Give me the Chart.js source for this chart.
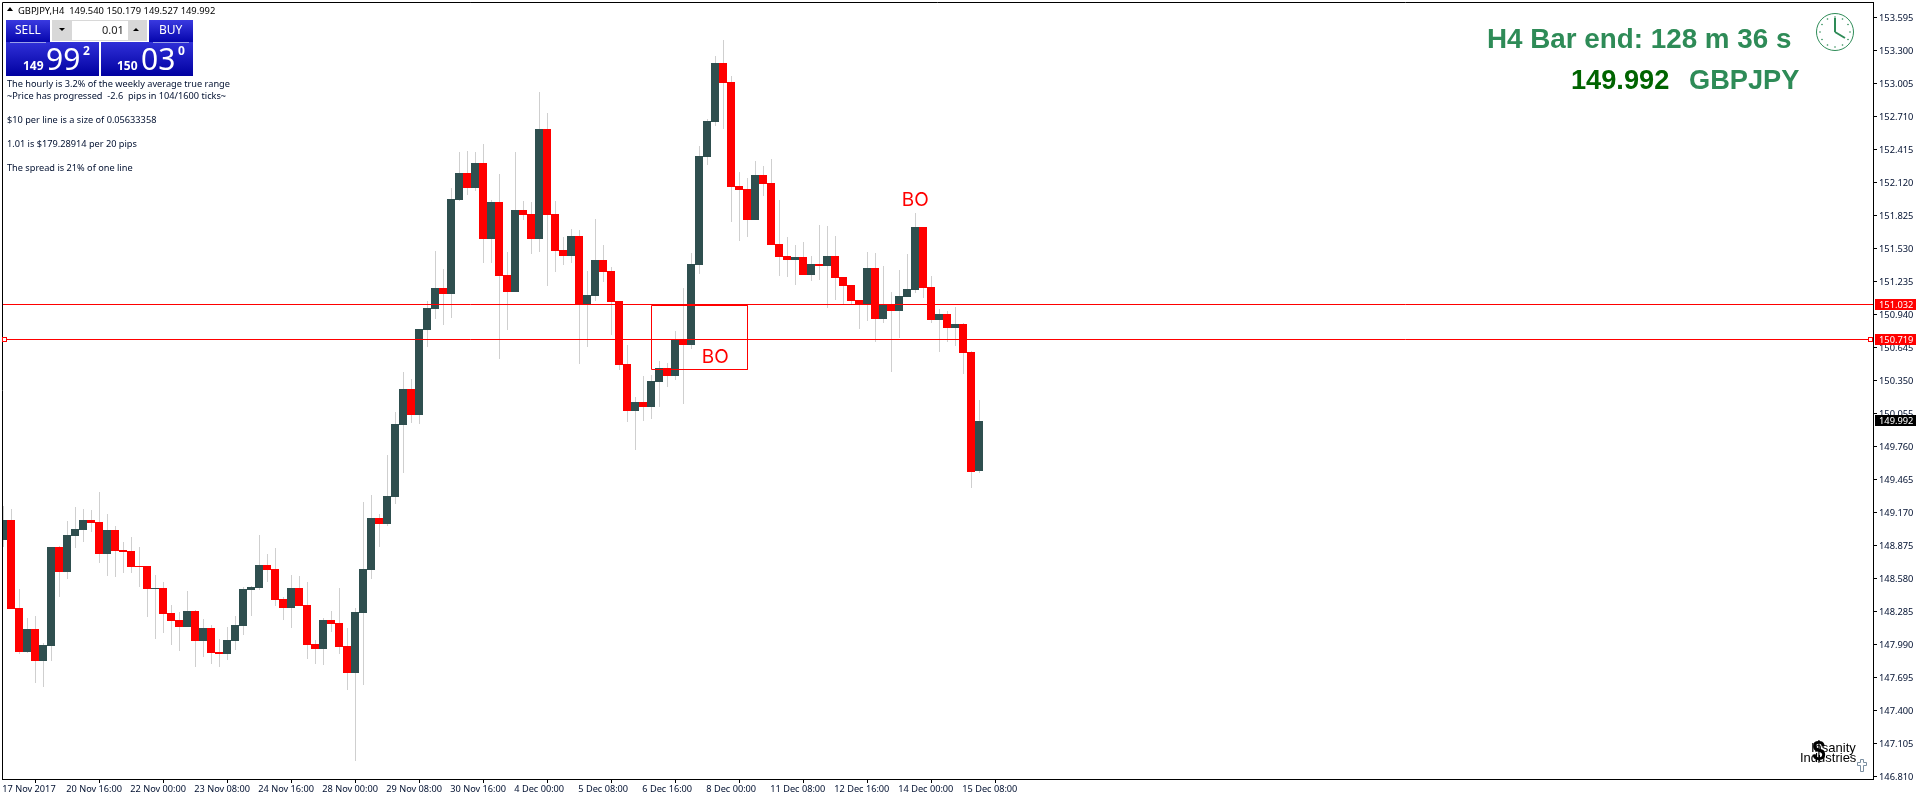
<!DOCTYPE html>
<html>
<head>
<meta charset="utf-8">
<title>GBPJPY,H4</title>
<script src="https://cdn.jsdelivr.net/npm/chart.js@4"></script>
<style>
    html, body { margin: 0; padding: 0; background: #fff; overflow: hidden; }
    #box { position: relative; width: 1916px; height: 800px; font-family: "Noto Sans", sans-serif; }
    #grafico { position: absolute; left: 0; top: 0; }
    .t { position: absolute; white-space: pre; line-height: 1; }
    .info { left: 7px; font-size: 9.2px; color: #001030; }
    .azul { position: absolute; background: linear-gradient(#3a3ae0, #0000a8); color: #fff; overflow: hidden; }
    .verde { font-family: "Liberation Sans", sans-serif; font-weight: bold; font-size: 27.2px; color: #2e8b57; }
</style>
</head>
<body>
<div id="box">
    <canvas id="grafico" width="1916" height="800"></canvas>

    <!-- cabecalho -->
    <div class="t" style="left:7px;top:7px;width:0;height:0;border-left:3.5px solid transparent;border-right:3.5px solid transparent;border-bottom:4px solid #000"></div>
    <div class="t" style="left:18px;top:5.5px;font-size:9.4px;color:#000">GBPJPY,H4  149.540 150.179 149.527 149.992</div>

    <!-- painel de ordem -->
    <div class="azul" style="left:6px;top:20px;width:44px;height:24px"></div>
    <div class="azul" style="left:149px;top:20px;width:44px;height:24px"></div>
    <div class="azul" style="left:6px;top:42px;width:93px;height:34px;background:linear-gradient(#3030d8,#0000a0)"></div>
    <div class="azul" style="left:101px;top:42px;width:92px;height:34px;background:linear-gradient(#3030d8,#0000a0)"></div>
    <div class="t" style="left:15px;top:24px;font-size:12px;color:#fff">SELL</div>
    <div class="t" style="left:159px;top:24px;font-size:12px;color:#fff">BUY</div>
    <div style="position:absolute;left:10px;top:42px;width:36px;height:1px;background:#9aa0e8"></div>
    <div style="position:absolute;left:153px;top:42px;width:36px;height:1px;background:#9aa0e8"></div>
    <div style="position:absolute;left:52px;top:20px;width:95px;height:21px;background:#d8d8d8;border:0"></div>
    <div style="position:absolute;left:72px;top:21px;width:56px;height:19px;background:#fff"></div>
    <div class="t" style="left:102px;top:24px;font-size:11px;color:#222">0.01</div>
    <div class="t" style="left:59px;top:28px;width:0;height:0;border-left:3px solid transparent;border-right:3px solid transparent;border-top:3px solid #000"></div>
    <div class="t" style="left:133px;top:28px;width:0;height:0;border-left:3px solid transparent;border-right:3px solid transparent;border-bottom:3px solid #000"></div>
    <div class="t" style="left:23px;top:60px;font-size:12px;font-weight:bold;color:#fff">149</div>
    <div class="t" style="left:46px;top:44px;font-size:30px;color:#fff">99</div>
    <div class="t" style="left:83px;top:45px;font-size:12px;font-weight:bold;color:#fff">2</div>
    <div class="t" style="left:117px;top:60px;font-size:12px;font-weight:bold;color:#fff">150</div>
    <div class="t" style="left:141px;top:44px;font-size:30px;color:#fff">03</div>
    <div class="t" style="left:178px;top:45px;font-size:12px;font-weight:bold;color:#fff">0</div>

    <!-- informacoes -->
    <div class="t info" style="top:79px">The hourly is 3.2% of the weekly average true range</div>
    <div class="t info" style="top:91px">~Price has progressed  -2.6  pips in 104/1600 ticks~</div>
    <div class="t info" style="top:115px">$10 per line is a size of 0.05633358</div>
    <div class="t info" style="top:139px">1.01 is $179.28914 per 20 pips</div>
    <div class="t info" style="top:163px">The spread is 21% of one line</div>

    <!-- contador da barra -->
    <div class="t verde" style="left:1487px;top:25px;font-size:27.8px">H4 Bar end: 128 m 36 s</div>
    <div class="t verde" style="left:1571px;top:66px;color:#006400">149.992</div>
    <div class="t verde" style="left:1689px;top:66px">GBPJPY</div>
    <svg style="position:absolute;left:1814px;top:11px" width="42" height="42" viewBox="0 0 42 42">
        <circle cx="21" cy="21" r="18.5" fill="none" stroke="#2e8b57" stroke-width="1"/>
        <g fill="#2e8b57">
            <circle cx="21" cy="6" r=".8"/><circle cx="28.500" cy="8" r=".8"/><circle cx="34" cy="13.500" r=".8"/>
            <circle cx="36" cy="21" r=".8"/><circle cx="34" cy="28.500" r=".8"/><circle cx="28.500" cy="34" r=".8"/>
            <circle cx="21" cy="36" r=".8"/><circle cx="13.500" cy="34" r=".8"/><circle cx="8" cy="28.500" r=".8"/>
            <circle cx="6" cy="21" r=".8"/><circle cx="8" cy="13.500" r=".8"/><circle cx="13.500" cy="8" r=".8"/>
        </g>
        <path d="M21 21 V7 M21 21 L31 27" stroke="#2e8b57" stroke-width="2" fill="none"/>
    </svg>

    <!-- logo -->
    <div class="t" style="left:1811px;top:741px;font-family:'Liberation Sans';font-size:13px;color:#000">Insanity</div>
    <div class="t" style="left:1800px;top:751px;font-family:'Liberation Sans';font-size:13px;color:#000">Industries</div>
    <div class="t" style="left:1811px;top:737px;font-family:'Liberation Sans';font-weight:bold;font-size:28px;color:#000;transform:scaleX(.85)">$</div>
    <svg style="position:absolute;left:1857px;top:759px" width="10" height="13" viewBox="0 0 10 13">
        <path d="M3.500 .5 H6.500 V3.500 H9.500 V6.500 H6.500 V12.500 H3.500 V6.500 H.5 V3.500 H3.500 Z" fill="#fff" stroke="#7a8ea0" stroke-width="1"/>
    </svg>
</div>

<script>
var timeLabels = ["17 Nov 2017", "20 Nov 16:00", "22 Nov 00:00", "23 Nov 08:00", "24 Nov 16:00", "28 Nov 00:00", "29 Nov 08:00", "30 Nov 16:00", "4 Dec 00:00", "5 Dec 08:00", "6 Dec 16:00", "8 Dec 00:00", "11 Dec 08:00", "12 Dec 16:00", "14 Dec 00:00", "15 Dec 08:00"]
var timeLabelStep = 8

var priceTicks = [153.595, 153.300, 153.005, 152.710, 152.415, 152.120, 151.825, 151.530, 151.235, 150.940, 150.645, 150.350, 150.055, 149.760, 149.465, 149.170, 148.875, 148.580, 148.285, 147.990, 147.695, 147.400, 147.105, 146.810]

var opens = [
    148.926, 149.104, 148.318, 147.925, 148.130, 147.844, 147.978, 148.863, 148.640, 148.961,
    149.015, 149.104, 149.087, 148.801, 149.015, 148.836, 148.827, 148.693, 148.693, 148.488,
    148.497, 148.273, 148.211, 148.148, 148.291, 148.023, 148.139, 147.925, 147.907, 148.023,
    148.157, 148.479, 148.497, 148.702, 148.667, 148.398, 148.318, 148.497, 148.345, 147.996,
    147.952, 148.211, 148.184, 147.978, 147.737, 148.273, 148.658, 149.122, 149.069, 149.313,
    149.953, 150.275, 150.043, 150.802, 150.990, 151.178, 151.124, 151.964, 152.205, 152.071,
    152.295, 151.616, 151.946, 151.294, 151.142, 151.875, 151.839, 151.616, 152.599, 151.839,
    151.517, 151.464, 151.642, 151.035, 151.106, 151.428, 151.330, 151.061, 150.498, 150.078,
    150.159, 150.114, 150.338, 150.463, 150.391, 150.713, 150.668, 151.383, 152.348, 152.661,
    153.188, 153.019, 152.089, 152.062, 151.785, 152.188, 152.116, 151.571, 151.464, 151.428,
    151.455, 151.294, 151.392, 151.374, 151.464, 151.276, 151.204, 151.070, 151.026, 151.356,
    150.901, 151.035, 150.972, 151.097, 151.160, 151.723, 151.187, 150.892, 150.945, 150.820,
    150.856, 150.606, 149.540
]
var closes = [
    149.104, 148.312, 147.925, 148.130, 147.844, 147.987, 148.863, 148.640, 148.970, 149.024,
    149.104, 149.078, 148.801, 149.015, 148.827, 148.818, 148.684, 148.684, 148.488, 148.497,
    148.264, 148.202, 148.148, 148.291, 148.023, 148.139, 147.916, 147.907, 148.032, 148.166,
    148.488, 148.506, 148.702, 148.658, 148.390, 148.318, 148.497, 148.336, 147.987, 147.952,
    148.211, 148.175, 147.969, 147.737, 148.282, 148.667, 149.122, 149.069, 149.319, 149.962,
    150.275, 150.043, 150.811, 150.999, 151.178, 151.124, 151.973, 152.205, 152.071, 152.295,
    151.616, 151.946, 151.285, 151.142, 151.875, 151.830, 151.616, 152.599, 151.830, 151.508,
    151.464, 151.642, 151.035, 151.115, 151.428, 151.321, 151.052, 150.489, 150.078, 150.159,
    150.114, 150.346, 150.463, 150.391, 150.713, 150.668, 151.392, 152.357, 152.670, 153.188,
    153.010, 152.080, 152.053, 151.785, 152.188, 152.107, 151.562, 151.455, 151.428, 151.455,
    151.294, 151.392, 151.374, 151.464, 151.267, 151.196, 151.062, 151.026, 151.356, 150.901,
    151.026, 150.972, 151.106, 151.169, 151.723, 151.178, 150.892, 150.945, 150.820, 150.856,
    150.597, 149.533, 149.992
]
var highs = [
    149.230, 149.203, 148.488, 148.229, 148.246, 148.002, 148.866, 148.872, 149.095, 149.221,
    149.203, 149.194, 149.355, 149.158, 149.051, 148.908, 148.952, 148.863, 148.693, 148.613,
    148.550, 148.345, 148.282, 148.470, 148.300, 148.220, 148.166, 148.041, 148.148, 148.246,
    148.506, 148.515, 148.970, 148.801, 148.854, 148.416, 148.613, 148.604, 148.550, 148.032,
    148.229, 148.291, 148.497, 148.139, 148.318, 149.265, 149.323, 149.153, 149.689, 150.069,
    150.427, 150.364, 150.811, 151.061, 151.508, 151.347, 152.071, 152.393, 152.402, 152.393,
    152.465, 151.964, 152.196, 151.499, 152.393, 151.955, 151.946, 152.925, 152.737, 151.955,
    151.633, 151.705, 151.696, 151.330, 151.794, 151.562, 151.365, 151.061, 150.668, 150.203,
    150.391, 150.400, 150.525, 150.507, 150.793, 151.178, 151.490, 152.447, 152.688, 153.251,
    153.394, 153.072, 152.214, 152.161, 152.313, 152.268, 152.331, 151.964, 151.633, 151.562,
    151.589, 151.464, 151.741, 151.732, 151.642, 151.276, 151.204, 151.070, 151.499, 151.490,
    151.374, 151.142, 151.339, 151.482, 151.848, 151.723, 151.285, 150.990, 150.972, 151.008,
    150.865, 150.615, 150.179
]
var lows = [
    148.866, 148.312, 147.907, 147.913, 147.648, 147.612, 147.844, 148.416, 148.577, 148.854,
    148.908, 148.997, 148.720, 148.604, 148.595, 148.631, 148.631, 148.506, 148.238, 148.041,
    148.095, 147.987, 147.934, 148.148, 147.791, 147.880, 147.818, 147.791, 147.853, 147.943,
    148.077, 148.246, 148.479, 148.550, 148.336, 148.211, 148.139, 148.336, 147.862, 147.818,
    147.809, 148.104, 147.907, 147.585, 146.951, 147.630, 148.577, 148.863, 149.051, 149.248,
    149.524, 149.971, 149.962, 150.650, 150.901, 150.847, 150.910, 151.955, 152.009, 152.045,
    151.401, 151.401, 150.543, 150.802, 151.142, 151.785, 151.481, 151.499, 151.195, 151.321,
    151.383, 151.401, 150.498, 150.650, 151.061, 151.231, 150.758, 150.445, 149.980, 149.730,
    149.989, 150.007, 150.114, 150.293, 150.356, 150.141, 150.632, 151.303, 152.277, 152.625,
    152.599, 151.768, 151.598, 151.633, 151.785, 152.000, 151.562, 151.285, 151.276, 151.204,
    151.294, 151.240, 151.249, 150.999, 151.070, 151.035, 151.035, 150.811, 150.883, 150.695,
    150.865, 150.427, 150.731, 151.097, 151.133, 151.088, 150.865, 150.606, 150.695, 150.659,
    150.409, 149.390, 149.527
]

var levelPrices = [151.032, 150.719]
var boxBars = [81, 93]
var boxPrices = [151.021, 150.449]
var boLabels = ["BO", "BO"]
var boBars = [89, 114]
var boPrices = [150.554, 151.964]
var tagTexts = ["151.032", "150.719", "149.992"]
var tagPrices = [151.032, 150.719, 149.992]
var tagColors = ["#ff0000", "#ff0000", "#000000"]

var corAlta = "#2f4f4f"
var corBaixa = "#ff0000"
var corPavio = "#cfcfcf"

var fonteEixo = '9.3px "Noto Sans"'

var xMin = -0.1625
var xMax = xMin + 1871 / 8
var yMin = 146.789
var yMax = 153.7335

function pontos(xs, ys) {
    return xs.map(function (x, i) { return { x: x, y: ys[i] } })
}

var corpos = opens.map(function (o, i) { return { x: i, y: [o, closes[i]] } })
var pavios = highs.map(function (h, i) { return { x: i, y: [lows[i], h] } })

var datasets = [{
    type: "bar",
    data: pavios,
    backgroundColor: corPavio,
    barThickness: 1,
    inflateAmount: 0,
    grouped: false,
    order: 3
}, {
    type: "bar",
    data: corpos,
    backgroundColor: function (ctx) {
        return closes[ctx.dataIndex] >= opens[ctx.dataIndex] ? corAlta : corBaixa
    },
    barThickness: 8,
    inflateAmount: 0,
    grouped: false,
    order: 2
}]

levelPrices.forEach(function (p) {
    datasets.push({
        type: "line",
        data: pontos([xMin, xMax], [p, p]),
        borderColor: corBaixa,
        borderWidth: 1,
        pointRadius: 0,
        order: 1
    })
})

// retangulo BO
datasets.push({
    type: "line",
    data: pontos(
        [boxBars[0], boxBars[1], boxBars[1], boxBars[0], boxBars[0]],
        [boxPrices[0], boxPrices[0], boxPrices[1], boxPrices[1], boxPrices[0]]
    ),
    borderColor: corBaixa,
    borderWidth: 1,
    pointRadius: 0,
    order: 1
})

// encaixa tudo no pixel, como o grafico original
var encaixe = {
    id: "encaixe",
    afterDatasetsUpdate: function (chart) {
        chart.getSortedVisibleDatasetMetas().forEach(function (meta) {
            meta.data.forEach(function (el) {
                if (meta.type == "bar") {
                    el.y = Math.round(el.y)
                    el.base = Math.round(el.base)
                    if (el.y == el.base) el.y = el.base - 1
                    el.height = el.base - el.y
                    el.x = el.width > 1 ? Math.floor(el.x) : Math.floor(el.x) + 0.5
                } else {
                    el.x = Math.floor(el.x) + 0.5
                    el.y = Math.floor(el.y) + 0.5
                }
            })
        })
    }
}

var extras = {
    id: "extras",
    afterDraw: function (chart) {
        var ctx = chart.ctx
        var area = chart.chartArea
        var sx = chart.scales.x
        var sy = chart.scales.y

        // moldura de cima e da esquerda
        ctx.save()
        ctx.strokeStyle = "#000"
        ctx.lineWidth = 1
        ctx.beginPath()
        ctx.moveTo(area.left + 0.5, area.bottom)
        ctx.lineTo(area.left + 0.5, area.top + 0.5)
        ctx.lineTo(area.right, area.top + 0.5)
        ctx.stroke()

        // textos BO
        ctx.fillStyle = corBaixa
        ctx.font = '19px "Inter"'
        ctx.textAlign = "center"
        ctx.textBaseline = "middle"
        boLabels.forEach(function (t, i) {
            ctx.fillText(t, sx.getPixelForValue(boBars[i]), sy.getPixelForValue(boPrices[i]))
        })

        // quadradinhos da linha selecionada
        var yQuad = Math.floor(sy.getPixelForValue(levelPrices[1])) + 0.5
        ctx.fillStyle = "#fff"
        ctx.strokeStyle = corBaixa
        ctx.fillRect(2.5, yQuad - 2, 4, 4)
        ctx.strokeRect(2.5, yQuad - 2, 4, 4)
        ctx.fillRect(1868.5, yQuad - 2, 4, 4)
        ctx.strokeRect(1868.5, yQuad - 2, 4, 4)

        // etiquetas de preco no eixo
        ctx.font = fonteEixo
        ctx.textAlign = "left"
        tagTexts.forEach(function (t, i) {
            var y = Math.floor(sy.getPixelForValue(tagPrices[i]))
            ctx.fillStyle = tagColors[i]
            ctx.fillRect(1875, y - 5, 41, 11)
            ctx.fillStyle = "#fff"
            ctx.fillText(t, 1879, y + 1)
        })
        ctx.restore()
    }
}

new Chart(document.getElementById("grafico"), {
    data: { datasets: datasets },
    plugins: [encaixe, extras],
    options: {
        responsive: false,
        animation: false,
        events: [],
        layout: { padding: { left: 2, top: 2, right: 0, bottom: 0 } },
        plugins: { legend: { display: false }, tooltip: { enabled: false }, title: { display: false } },
        scales: {
            x: {
                type: "linear",
                offset: false,
                min: xMin,
                max: xMax,
                border: { color: "#000", width: 1 },
                grid: { drawOnChartArea: false, color: "#000", tickLength: 4 },
                afterBuildTicks: function (scale) {
                    scale.ticks = timeLabels.map(function (t, i) { return { value: i * timeLabelStep } })
                },
                afterFit: function (scale) {
                    scale.height = 21
                    scale.paddingLeft = 0
                    scale.paddingRight = 0
                },
                ticks: {
                    autoSkip: false,
                    maxRotation: 0,
                    align: "start",
                    padding: 1,
                    labelOffset: -1,
                    color: "#001030",
                    font: { family: "Noto Sans", size: 9.2 },
                    callback: function (value) { return timeLabels[value / timeLabelStep] }
                }
            },
            y: {
                type: "linear",
                position: "right",
                min: yMin,
                max: yMax,
                border: { color: "#000", width: 1 },
                grid: { drawOnChartArea: false, color: "#000", tickLength: 4 },
                afterBuildTicks: function (scale) {
                    scale.ticks = priceTicks.map(function (p) { return { value: p } })
                },
                afterFit: function (scale) {
                    scale.width = 43
                    scale.paddingTop = 0
                    scale.paddingBottom = 0
                },
                ticks: {
                    autoSkip: false,
                    padding: 2,
                    labelOffset: 1,
                    color: "#001030",
                    font: { family: "Noto Sans", size: 9.3 },
                    callback: function (value) { return value.toFixed(3) }
                }
            }
        }
    }
})
</script>
</body>
</html>
